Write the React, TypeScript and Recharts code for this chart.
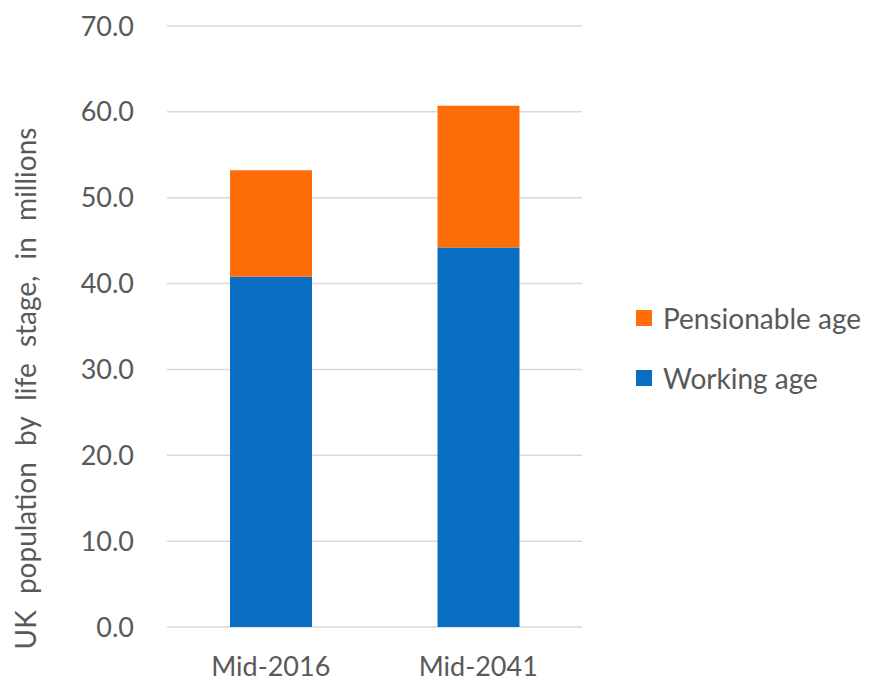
import React from 'react';
import { BarChart, Bar, XAxis, YAxis, CartesianGrid, Legend } from 'recharts';

// UK population by life stage, millions
const periods = ['Mid-2016', 'Mid-2041'];
const workingAge = [40.8, 44.2];
const pensionableAge = [12.4, 16.5];
const yTicks = [0, 10, 20, 30, 40, 50, 60, 70];

const data = periods.map((period, i) => ({
  period,
  working: workingAge[i],
  pensionable: pensionableAge[i],
}));

const FONT = 'Lato, "Open Sans", sans-serif';
const TEXT = '#595959';
const LEGEND_W = 236;

const renderLegend = (props: any) => {
  const items = props.payload || [];
  return (
    <div style={{ fontFamily: FONT, fontSize: 28, color: TEXT }}>
      {items.map((item: any) => (
        <div key={item.value} style={{ display: 'flex', alignItems: 'center', height: 60 }}>
          <span style={{ width: 16, height: 16, background: item.color, marginRight: 11, flex: 'none' }} />
          <span style={{ whiteSpace: 'nowrap' }}>{item.value}</span>
        </div>
      ))}
    </div>
  );
};

const yLabel = (props: any) => {
  const { viewBox } = props;
  const cx = viewBox.x + 25;
  const cy = viewBox.y + viewBox.height / 2 + 62;
  return (
    <text
      x={cx}
      y={cy}
      transform={`rotate(-90, ${cx}, ${cy})`}
      textAnchor="middle"
      dominantBaseline="central"
      fill={TEXT}
      fontFamily={FONT}
      fontSize={28}
      wordSpacing={9}
    >
      UK population by life stage, in millions
    </text>
  );
};

export default function App() {
  return (
    <div style={{ position: 'absolute', left: 0, top: 0, background: '#fff' }}>
      <BarChart
        width={872}
        height={682}
        data={data}
        margin={{ top: 26, right: 290 - LEGEND_W, bottom: 0, left: 0 }}
      >
        <CartesianGrid xAxisId="cat" vertical={false} stroke="#D9D9D9" strokeWidth={1.5} />
        <XAxis
          xAxisId="frame"
          type="number"
          domain={[0, 2]}
          ticks={[0, 1, 2]}
          height={0}
          tick={false}
          tickSize={9}
          axisLine={{ stroke: '#BFBFBF', strokeWidth: 1.5 }}
          tickLine={{ stroke: '#BFBFBF', strokeWidth: 1.5 }}
        />
        <XAxis
          xAxisId="cat"
          dataKey="period"
          height={55}
          axisLine={false}
          tickLine={false}
          tickSize={0}
          tickMargin={30}
          tick={{ fill: TEXT, fontFamily: FONT, fontSize: 27 }}
        />
        <YAxis
          width={167}
          domain={[0, 70]}
          ticks={yTicks}
          interval={0}
          axisLine={false}
          tickLine={false}
          tickSize={8}
          tickMargin={25}
          tickFormatter={(v: number) => v.toFixed(1)}
          tick={{ fill: TEXT, fontFamily: FONT, fontSize: 27 }}
          label={yLabel}
        />
        <Legend
          layout="vertical"
          align="right"
          verticalAlign="top"
          content={renderLegend}
          wrapperStyle={{ left: 636, top: 288, width: LEGEND_W }}
        />
        <Bar
          xAxisId="cat"
          dataKey="working"
          name="Working age"
          stackId="pop"
          fill="#0A6FC2"
          barSize={82}
          isAnimationActive={false}
        />
        <Bar
          xAxisId="cat"
          dataKey="pensionable"
          name="Pensionable age"
          stackId="pop"
          fill="#FF6D0A"
          barSize={82}
          isAnimationActive={false}
        />
      </BarChart>
    </div>
  );
}
